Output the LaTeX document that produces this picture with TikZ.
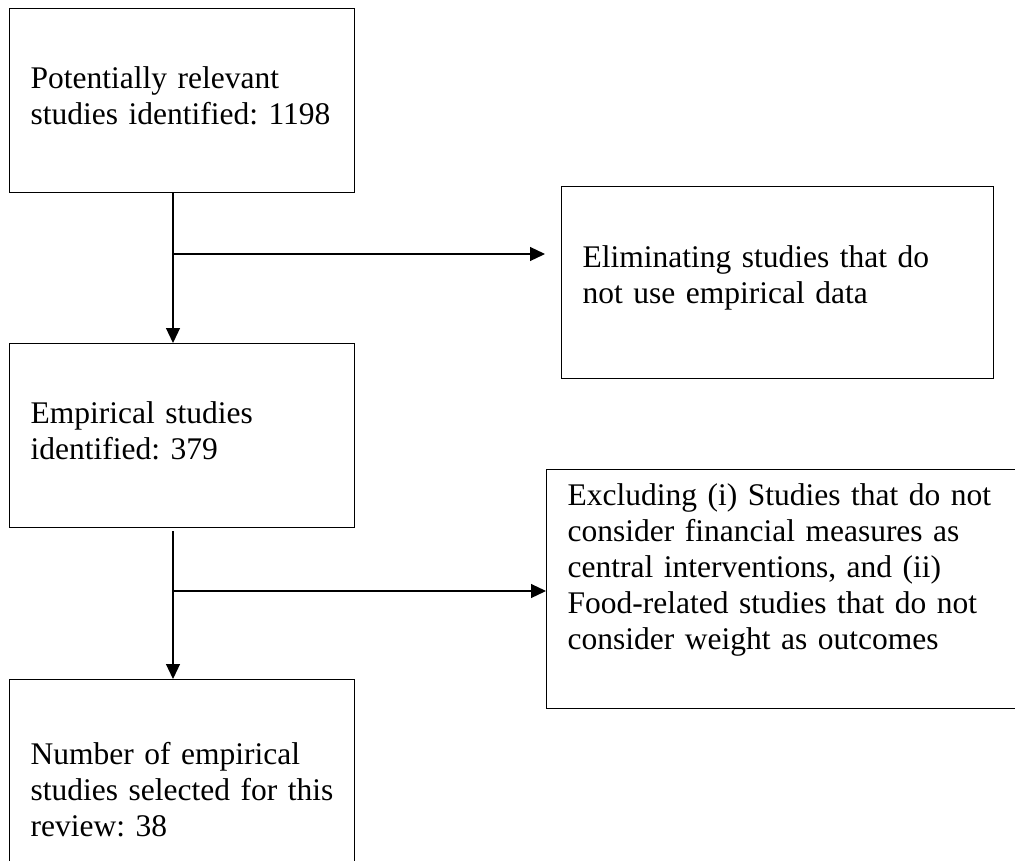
\documentclass[tikz,border=0pt]{standalone}
\usepackage{fontspec}
\setmainfont{Liberation Serif}
\usetikzlibrary{arrows.meta}

\begin{document}
\begin{tikzpicture}[
	x=1pt, y=-1pt,
	stagebox/.style={
		draw,
		line width=1.2pt,
		rectangle,
		anchor=north west,
		inner xsep=21pt,
		inner ysep=0pt,
		align=left,
		font=\fontsize{31.5}{36}\selectfont\frenchspacing,
		execute at end node={\endgraf\vspace{10pt}}
	},
	flowarrow/.style={
		line width=1.2pt,
		-{Triangle[length=15pt, width=14pt]}
	}
]
	\useasboundingbox (0,0) rectangle (1015,860);
	\clip (0,0) rectangle (1015,860);

	% main column
	\node[stagebox, text width=303pt, minimum height=184pt] (identified)
		at (9,8) {Potentially relevant\\studies identified: 1198};
	\node[stagebox, text width=303pt, minimum height=184pt] (empirical)
		at (9,343) {Empirical studies\\identified: 379};
	\node[stagebox, text width=303pt, minimum height=230pt] (selected)
		at (9,679) {Number of empirical\\studies selected for this\\review: 38};

	% removed studies
	\node[stagebox, text width=390pt, minimum height=192pt] (eliminated)
		at (561,186) {Eliminating studies that do\\not use empirical data};
	\node[stagebox, text width=442pt, minimum height=239pt] (excluded)
		at (546,469) {Excluding (i) Studies that do not\\consider financial measures as\\central interventions, and (ii)\\Food-related studies that do not\\consider weight as outcomes\\\mbox{}};

	% connectors
	\coordinate (forkA) at (173,254);
	\coordinate (forkB) at (173,591);

	\draw[flowarrow]
		(identified.south -| forkA) -- (empirical.north -| forkA);
	\draw[flowarrow, shorten >=16pt]
		(forkA) -- (forkA -| eliminated.west);

	\draw[flowarrow, shorten <=3pt]
		(empirical.south -| forkB) -- (selected.north -| forkB);
	\draw[flowarrow]
		(forkB) -- (forkB -| excluded.west);
\end{tikzpicture}
\end{document}
